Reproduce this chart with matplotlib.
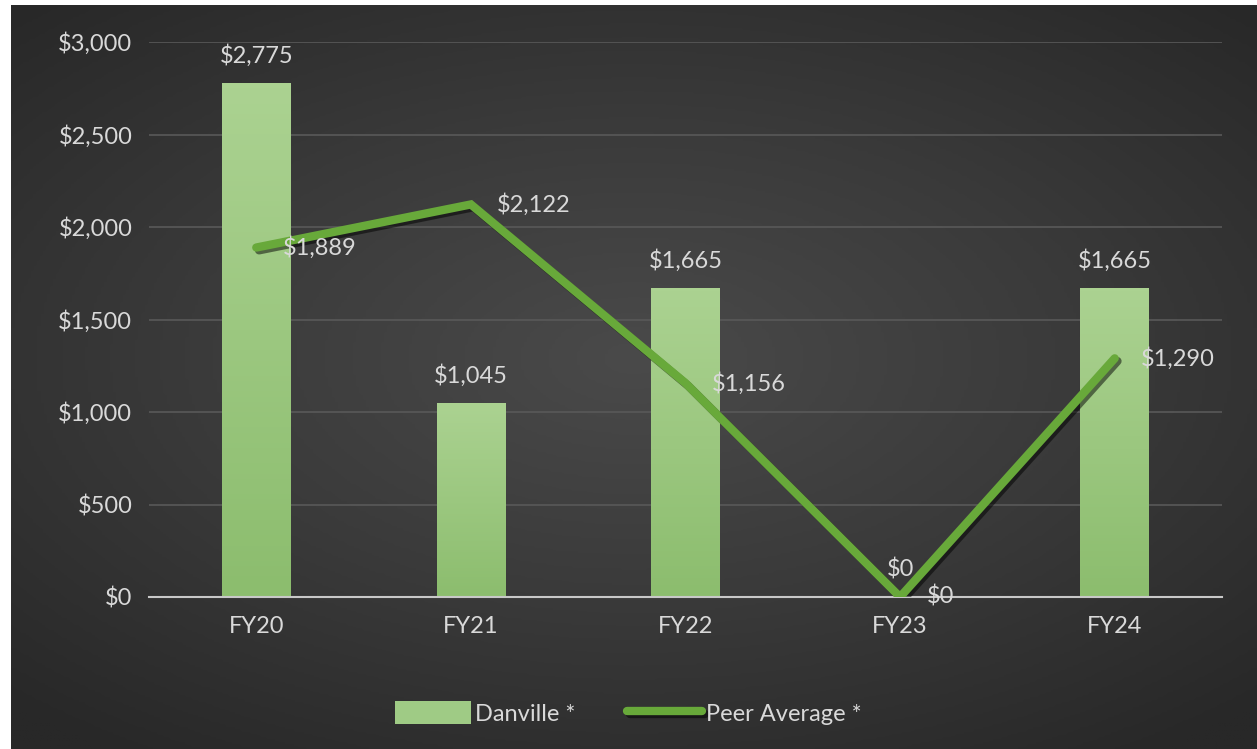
import numpy as np
import matplotlib
matplotlib.use('Agg')
import matplotlib.pyplot as plt
import matplotlib.patheffects as pe
from matplotlib.colors import LinearSegmentedColormap

years = ['FY20', 'FY21', 'FY22', 'FY23', 'FY24']
danville = [2775, 1045, 1665, 0, 1665]
peer_avg = [1889, 2122, 1156, 0, 1290]
yticks = [0, 500, 1000, 1500, 2000, 2500, 3000]

plt.rcParams['font.family'] = ['Lato', 'DejaVu Sans']
txt = '#d9d9d9'
fs = 17

fig = plt.figure(figsize=(12.57, 7.49), dpi=100, facecolor='white')

# dark radial background
bg = fig.add_axes([11/1257, 0, 1 - 11/1257, 1 - 5/749], zorder=0)
gx, gy = np.meshgrid(np.linspace(-1, 1, 400), np.linspace(-1, 1, 300))
r = np.sqrt((gx * 0.9) ** 2 + ((gy + 0.05) * 1.0) ** 2)
bgmap = LinearSegmentedColormap.from_list('bg', ['#4a4a4a', '#3a3a3a', '#282828'])
bg.imshow(r, cmap=bgmap, aspect='auto', extent=[0, 1, 0, 1], vmin=0, vmax=1.3)
bg.axis('off')

ax = fig.add_axes([149/1257, 1 - 597/749, (1222 - 149)/1257, (597 - 42)/749], zorder=1)
ax.patch.set_alpha(0)
x = np.arange(len(years))

bars = ax.bar(x, danville, width=0.32, color='#9fcb85', label='Danville *', zorder=2)
barmap = LinearSegmentedColormap.from_list('bar', ['#8cbd6e', '#abd291'])
grad = np.linspace(0, 1, 100).reshape(-1, 1)
for b in bars:
    if b.get_height() > 0:
        ax.imshow(grad, cmap=barmap, origin='lower', aspect='auto', zorder=2.1,
                  extent=[b.get_x(), b.get_x() + b.get_width(), 0, b.get_height()])
ax.set_xlim(-0.5, len(years) - 0.5)
ax.set_ylim(0, 3000)

line, = ax.plot(x, peer_avg, color='#68a93a', lw=6, solid_capstyle='round', solid_joinstyle='miter',
                label='Peer Average *', zorder=3,
                path_effects=[pe.SimpleLineShadow(offset=(2, -2), shadow_color='black', alpha=0.5), pe.Normal()])

for xi, v in zip(x, danville):
    ax.annotate(f'${v:,}', (xi, v), xytext=(0, 12), textcoords='offset points',
                ha='center', va='bottom', color=txt, fontsize=fs, zorder=4)
for xi, v in zip(x, peer_avg):
    ax.annotate(f'${v:,}', (xi, v), xytext=(19, 0), textcoords='offset points',
                ha='left', va='center', color=txt, fontsize=fs, zorder=4)

ax.set_yticks(yticks)
ax.set_yticklabels([f'${t:,}' for t in yticks])
ax.set_xticks(x)
ax.set_xticklabels(years)
ax.tick_params(colors=txt, labelsize=fs, length=0)
ax.tick_params(axis='y', pad=12)
ax.tick_params(axis='x', pad=14)
ax.grid(axis='y', color='#595959', lw=1.2, zorder=1)
ax.set_axisbelow(True)
for s in ['top', 'right', 'left']:
    ax.spines[s].set_visible(False)
ax.spines['bottom'].set_color('#c8c8c8')
ax.spines['bottom'].set_linewidth(1.5)

leg = ax.legend([bars, line], ['Danville *', 'Peer Average *'], loc='center',
                bbox_to_anchor=(0.5, 1 - 713/749), bbox_transform=fig.transFigure,
                ncol=2, frameon=False, fontsize=fs, handlelength=3.2, handleheight=1.1,
                handletextpad=0.15, columnspacing=2.2)
for t in leg.get_texts():
    t.set_color(txt)

fig.savefig('out.png', dpi=100, facecolor=fig.get_facecolor())
